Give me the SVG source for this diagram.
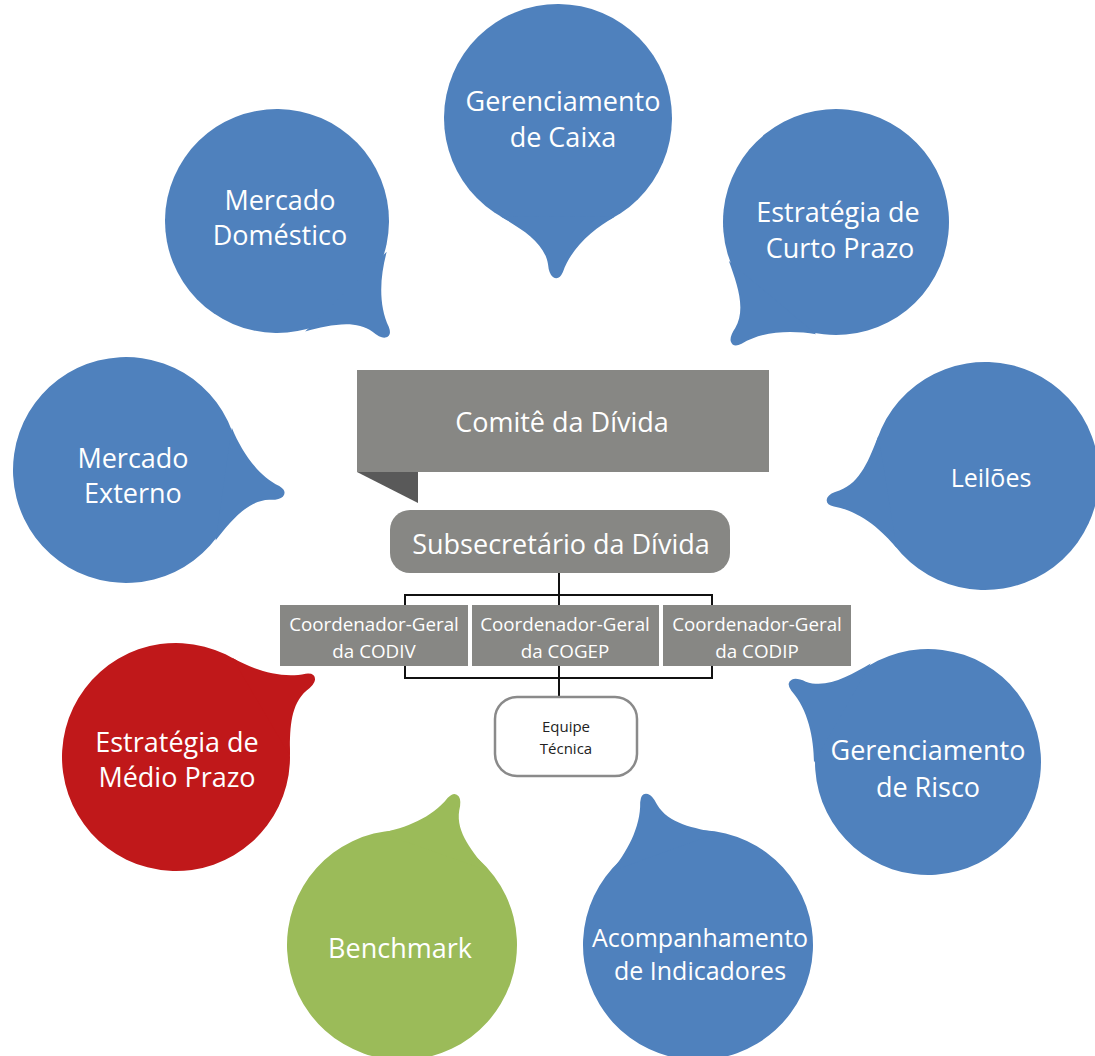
<svg xmlns="http://www.w3.org/2000/svg" xmlns:xlink="http://www.w3.org/1999/xlink" width="1095" height="1056" viewBox="0 0 1095 1056">
<style>
.t{font-family:"Open Sans","Liberation Sans",sans-serif;fill:#fff;text-anchor:middle}
.b{font-size:27px}
.c{font-size:18.8px}
.e{font-size:15px;fill:#222}
.blue{fill:#4f81bd}
.red{fill:#c0181a}
.green{fill:#9bbb59}
.gray{fill:#878784}
.ln{stroke:#111;stroke-width:2;fill:none}
</style>
<defs>
<path id="tail" d="M98.7,-57 C111,-36 130,-14 154,-6 Q163,-2 159,4 Q156,8 146,9 C124,13 111,36 98.7,57 Z"/>
</defs>
<rect width="1095" height="1056" fill="#fff"/>

<g id="caixa">
<g class="blue" transform="translate(558,118) rotate(90.4)"><circle r="114"/><use xlink:href="#tail" href="#tail"/></g>
<text class="t b" x="563" y="111">Gerenciamento</text><text class="t b" x="563" y="147">de Caixa</text>
</g>
<g id="domestico">
<g class="blue" transform="translate(277,221) rotate(45.7)"><circle r="112"/><use xlink:href="#tail" href="#tail"/></g>
<text class="t b" x="280" y="210">Mercado</text><text class="t b" x="280" y="245">Doméstico</text>
</g>
<g id="curto">
<g class="blue" transform="translate(836,222) rotate(130)"><circle r="113"/><use xlink:href="#tail" href="#tail"/></g>
<text class="t b" x="838" y="222">Estratégia de</text><text class="t b" x="840" y="258">Curto Prazo</text>
</g>
<g id="externo">
<g class="blue" transform="translate(126,470) rotate(8.2)"><circle r="113"/><use xlink:href="#tail" href="#tail"/></g>
<text class="t b" x="133" y="468">Mercado</text><text class="t b" x="133" y="503">Externo</text>
</g>
<g id="leiloes">
<g class="blue" transform="translate(985,476) rotate(170.8)"><circle r="114"/><use xlink:href="#tail" href="#tail"/></g>
<text class="t" style="font-size:25px" x="991" y="487">Leilões</text>
</g>
<g id="medio">
<g class="red" transform="translate(176,757) rotate(-30.5)"><circle r="114"/><use xlink:href="#tail" href="#tail"/></g>
<text class="t b" x="177" y="752">Estratégia de</text><text class="t b" x="177" y="787">Médio Prazo</text>
</g>
<g id="benchmark">
<g class="green" transform="translate(402,945) rotate(-70.5)"><circle r="115"/><use xlink:href="#tail" href="#tail"/></g>
<text class="t b" x="400" y="958">Benchmark</text>
</g>
<g id="acompanhamento">
<g class="blue" transform="translate(698,945) rotate(-109.8)"><circle r="115"/><use xlink:href="#tail" href="#tail"/></g>
<text class="t" style="font-size:25px" x="700" y="947">Acompanhamento</text><text class="t" style="font-size:25px" x="700" y="980">de Indicadores</text>
</g>
<g id="risco">
<g class="blue" transform="translate(928,762) rotate(-150.2)"><circle r="113"/><use xlink:href="#tail" href="#tail"/></g>
<text class="t b" x="928" y="760">Gerenciamento</text><text class="t b" x="928" y="797">de Risco</text>
</g>

<g id="connectors">
<path class="ln" d="M559,573 V605 M405,605 V595 H712 V605"/>
<path class="ln" d="M405,666 V678 H712 V666 M559,666 V697"/>
</g>

<g id="comite">
<rect class="gray" x="357" y="370" width="412" height="102"/>
<path d="M357,472 H418 V503 Z" fill="#595959"/>
<text class="t" style="font-size:27px" x="562" y="432">Comitê da Dívida</text>
</g>
<g id="subsecretario">
<rect class="gray" x="390" y="510" width="340" height="63" rx="20"/>
<text class="t" style="font-size:27px" x="561" y="554">Subsecretário da Dívida</text>
</g>
<g id="codiv">
<rect class="gray" x="280" y="605" width="188" height="61"/>
<text class="t c" x="374" y="631">Coordenador-Geral</text><text class="t c" x="374" y="658">da CODIV</text>
</g>
<g id="cogep">
<rect class="gray" x="472" y="605" width="187" height="61"/>
<text class="t c" x="565" y="631">Coordenador-Geral</text><text class="t c" x="565" y="658">da COGEP</text>
</g>
<g id="codip">
<rect class="gray" x="663" y="605" width="188" height="61"/>
<text class="t c" x="757" y="631">Coordenador-Geral</text><text class="t c" x="757" y="658">da CODIP</text>
</g>
<g id="equipe">
<rect x="495" y="697" width="142" height="79" rx="22" fill="#fff" stroke="#8a8a8a" stroke-width="2.5"/>
<text class="t e" x="566" y="732">Equipe</text><text class="t e" x="566" y="754">Técnica</text>
</g>
</svg>
